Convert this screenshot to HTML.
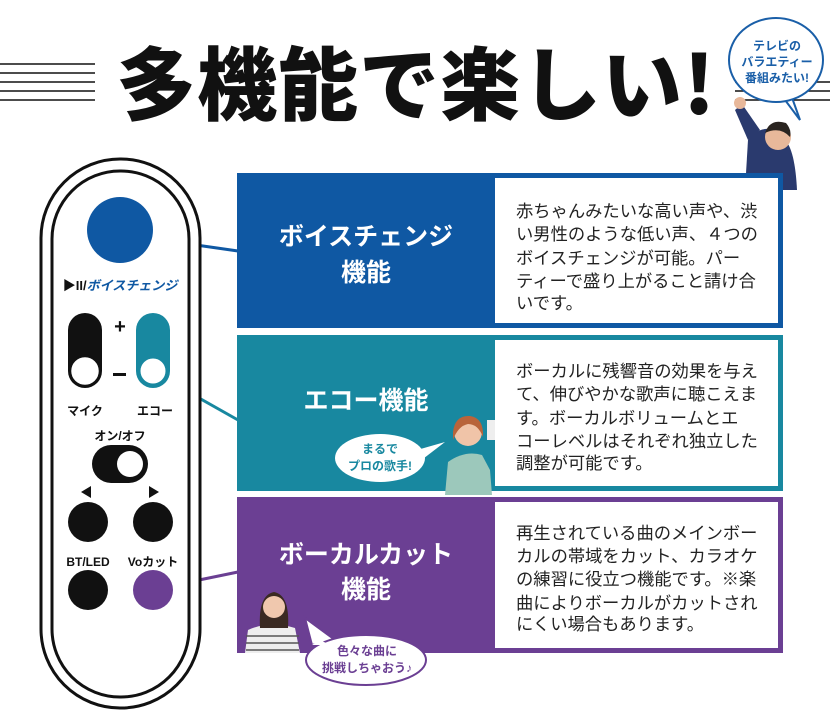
<!DOCTYPE html>
<html><head><meta charset="utf-8"><style>
html,body{margin:0;padding:0;background:#fff;}
svg{display:block;font-family:"Liberation Sans","Noto Sans CJK JP",sans-serif;}
</style></head><body>
<svg width="830" height="720" viewBox="0 0 830 720" xmlns="http://www.w3.org/2000/svg">
<g stroke="#111" stroke-width="1.6">
<line x1="0" y1="64" x2="95" y2="64"/><line x1="0" y1="73" x2="95" y2="73"/><line x1="0" y1="82" x2="95" y2="82"/><line x1="0" y1="91" x2="95" y2="91"/><line x1="0" y1="100" x2="95" y2="100"/>
<line x1="735" y1="82" x2="830" y2="82"/><line x1="735" y1="91" x2="830" y2="91"/><line x1="735" y1="100" x2="830" y2="100"/>
</g>
<text x="416" y="114" text-anchor="middle" font-size="80" font-weight="900" fill="#111" letter-spacing="1" font-family="'Noto Sans CJK JP',sans-serif">多機能で楽しい!</text>

<!-- man -->
<path d="M745 190 L748 140 Q760 125 775 130 L785 140 Q795 150 797 190 Z" fill="#2a3a6e"/>
<path d="M748 140 L735 110 L742 104 L760 130 Z" fill="#2a3a6e"/>
<circle cx="740" cy="103" r="6" fill="#e8b89a"/>
<circle cx="778" cy="137" r="13" fill="#e8b89a"/>
<path d="M765 133 Q770 118 786 123 Q792 130 790 137 Q780 126 765 133Z" fill="#2a2420"/>
<!-- top bubble -->
<path d="M790 92 L800 120 L785 100 Z" fill="#fff" stroke="#1a5fa8" stroke-width="2"/>
<ellipse cx="776" cy="60" rx="47" ry="42" fill="#fff" stroke="#1a5fa8" stroke-width="2"/>
<g fill="#1a5fa8" font-size="12" font-weight="700" text-anchor="middle">
<text x="777" y="50">テレビの</text><text x="777" y="66">バラエティー</text><text x="777" y="82">番組みたい!</text></g>

<!-- sections -->
<rect x="237" y="173" width="546" height="155" fill="#0f58a3"/>
<rect x="495" y="178" width="283" height="145" fill="#fff"/>
<rect x="237" y="335" width="546" height="156" fill="#1888a0"/>
<rect x="495" y="340" width="283" height="146" fill="#fff"/>
<rect x="237" y="497" width="546" height="156" fill="#6b3f93"/>
<rect x="495" y="502" width="283" height="146" fill="#fff"/>

<g fill="#fff" font-size="25" font-weight="700" text-anchor="middle">
<text x="366" y="245">ボイスチェンジ</text><text x="366" y="281">機能</text>
<text x="366" y="409">エコー機能</text>
<text x="366" y="563">ボーカルカット</text><text x="366" y="598">機能</text>
</g>
<g fill="#222" font-size="17.3">
<text x="516" y="217">赤ちゃんみたいな高い声や、渋</text>
<text x="516" y="240">い男性のような低い声、４つの</text>
<text x="516" y="264">ボイスチェンジが可能。パー</text>
<text x="516" y="287">ティーで盛り上がること請け合</text>
<text x="516" y="309">いです。</text>
<text x="516" y="377">ボーカルに残響音の効果を与え</text>
<text x="516" y="400">て、伸びやかな歌声に聴こえま</text>
<text x="516" y="424">す。ボーカルボリュームとエ</text>
<text x="516" y="447">コーレベルはそれぞれ独立した</text>
<text x="516" y="469">調整が可能です。</text>
<text x="516" y="539">再生されている曲のメインボー</text>
<text x="516" y="562">カルの帯域をカット、カラオケ</text>
<text x="516" y="585">の練習に役立つ機能です。※楽</text>
<text x="516" y="609">曲によりボーカルがカットされ</text>
<text x="516" y="630">にくい場合もあります。</text>
</g>

<!-- woman teal -->
<path d="M445 495 L448 462 Q465 450 482 455 L490 470 L492 495 Z" fill="#9cc8bb"/>
<circle cx="468" cy="432" r="14" fill="#f0c4a8"/>
<path d="M453 432 Q455 415 470 416 Q484 418 483 437 Q478 424 468 424 Q458 426 453 440 Z" fill="#b8643a"/>
<rect x="487" y="420" width="8" height="20" fill="#eee"/>
<!-- bubble teal -->
<path d="M410 452 L445 442 L415 465 Z" fill="#fff"/>
<ellipse cx="380" cy="458" rx="45" ry="24" fill="#fff"/>
<g fill="#1888a0" font-size="12" font-weight="700" text-anchor="middle"><text x="380" y="453">まるで</text><text x="380" y="470">プロの歌手!</text></g>

<!-- girl purple -->
<path d="M245 653 L248 630 Q270 620 295 628 L300 653 Z" fill="#eee"/>
<g stroke="#555" stroke-width="1.5"><line x1="246" y1="636" x2="299" y2="636"/><line x1="246" y1="643" x2="299" y2="643"/><line x1="246" y1="650" x2="299" y2="650"/></g>
<path d="M260 628 Q258 595 274 592 Q290 595 288 628 Z" fill="#3a2a22"/>
<circle cx="274" cy="607" r="11" fill="#f0c8ae"/>
<!-- bubble purple -->
<path d="M312 645 L305 618 L335 640 Z" fill="#fff" stroke="#6b3f93" stroke-width="2"/>
<ellipse cx="366" cy="660" rx="60" ry="25" fill="#fff" stroke="#6b3f93" stroke-width="2"/>
<path d="M312 645 L320 640 L330 645 Z" fill="#fff"/>
<g fill="#6b3f93" font-size="12" font-weight="700" text-anchor="middle"><text x="367" y="655">色々な曲に</text><text x="367" y="672">挑戦しちゃおう♪</text></g>

<!-- connectors -->
<line x1="140" y1="237" x2="238" y2="251" stroke="#0f58a3" stroke-width="3"/>
<line x1="160" y1="376" x2="238" y2="420" stroke="#1888a0" stroke-width="3"/>
<line x1="165" y1="587" x2="238" y2="572" stroke="#6b3f93" stroke-width="3"/>

<!-- remote -->
<rect x="41" y="159" width="159" height="549" rx="79" fill="#fff" stroke="#111" stroke-width="3"/>
<rect x="52" y="171" width="137" height="526" rx="68" fill="none" stroke="#111" stroke-width="3"/>
<circle cx="120" cy="230" r="33" fill="#0f58a3"/>
<text x="120" y="290" text-anchor="middle" font-size="13" font-weight="700" fill="#111">▶II/<tspan fill="#0f58a3" font-style="italic">ボイスチェンジ</tspan></text>
<rect x="68" y="313" width="34" height="75" rx="17" fill="#111"/>
<circle cx="85" cy="371" r="15" fill="#fff" stroke="#111" stroke-width="2.5"/>
<rect x="136" y="313" width="34" height="75" rx="17" fill="#1888a0"/>
<circle cx="153" cy="371" r="14" fill="#fff" stroke="#1888a0" stroke-width="3"/>
<text x="120" y="333" text-anchor="middle" font-size="20" font-weight="700" fill="#111">+</text>
<rect x="113" y="373" width="13" height="3" fill="#111"/>
<g font-size="12" font-weight="700" fill="#111" text-anchor="middle">
<text x="85" y="415">マイク</text><text x="155" y="415">エコー</text><text x="120" y="440">オン/オフ</text>
<text x="88" y="566">BT/LED</text><text x="153" y="566">Voカット</text></g>
<rect x="92" y="445" width="56" height="38" rx="19" fill="#111"/>
<circle cx="130" cy="464" r="13" fill="#fff"/>
<path d="M81 492 L91 486 L91 498 Z" fill="#111"/>
<path d="M159 492 L149 486 L149 498 Z" fill="#111"/>
<circle cx="88" cy="522" r="20" fill="#111"/>
<circle cx="153" cy="522" r="20" fill="#111"/>
<circle cx="88" cy="590" r="20" fill="#111"/>
<circle cx="153" cy="590" r="20" fill="#6b3f93"/>
</svg>
</body></html>
